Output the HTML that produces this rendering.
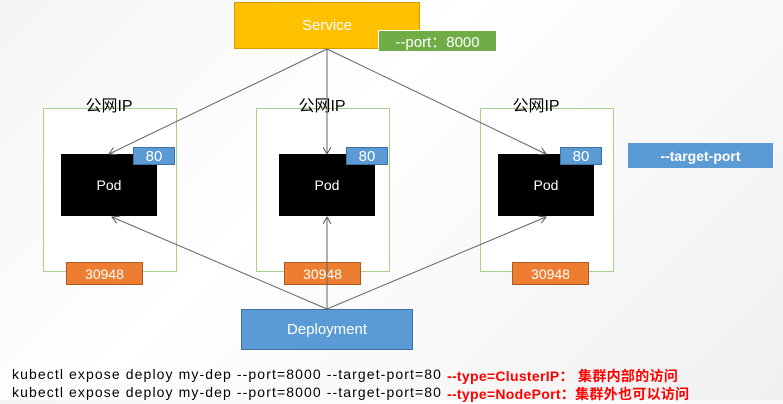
<!DOCTYPE html>
<html><head><meta charset="utf-8"><style>
body{margin:0;width:783px;height:400px;overflow:hidden;background:linear-gradient(135deg,#f4f4f4,#fff 40%,#f0f0f0);font-family:"Liberation Sans","Noto Sans CJK SC",sans-serif;position:relative}
.a{position:absolute;box-sizing:border-box;display:flex;align-items:center;justify-content:center;color:#fff}
.box{position:absolute;border:1px solid #a9d18e;background:#fff}
.lbl{position:absolute;font-size:16px;color:#000;width:100px;text-align:center}
.pod{background:#000;font-size:14px}
.p80{background:#5b9bd5;font-size:15px;border:1px solid #41719c}
.np{background:#ed7d31;font-size:14px;border:1px solid #ae5a21}
.t{position:absolute;left:12px;font-size:14px;color:#000;white-space:nowrap;letter-spacing:1.1px}
.r{position:absolute;left:447px;font-size:14px;color:#f00;font-weight:bold;white-space:nowrap;letter-spacing:0.3px}
</style></head><body>
<div class="box" style="left:43px;top:108px;width:132px;height:162px"></div>
<div class="box" style="left:256px;top:108px;width:132px;height:162px"></div>
<div class="box" style="left:480px;top:108px;width:132px;height:162px"></div>
<div class="lbl" style="left:59px;top:92px">公网IP</div>
<div class="lbl" style="left:272px;top:92px">公网IP</div>
<div class="lbl" style="left:486px;top:92px">公网IP</div>
<div class="a pod" style="left:61px;top:154px;width:96px;height:62px">Pod</div>
<div class="a pod" style="left:279px;top:154px;width:96px;height:62px">Pod</div>
<div class="a pod" style="left:498px;top:154px;width:96px;height:62px">Pod</div>
<div class="a p80" style="left:133px;top:147px;width:42px;height:18px">80</div>
<div class="a p80" style="left:346px;top:147px;width:42px;height:18px">80</div>
<div class="a p80" style="left:560px;top:147px;width:42px;height:18px">80</div>
<div class="a np" style="left:66px;top:262px;width:77px;height:23px">30948</div>
<div class="a np" style="left:284px;top:262px;width:77px;height:23px">30948</div>
<div class="a np" style="left:512px;top:262px;width:77px;height:23px">30948</div>
<div class="a" style="left:234px;top:2px;width:186px;height:47px;background:#ffc000;border:1px solid #d4a000;font-size:15px">Service</div>
<div class="a" style="left:378px;top:30px;width:119px;height:22px;background:#70ad47;border:1px solid #fff;font-size:15px">--port：8000</div>
<div class="a" style="left:628px;top:143px;width:145px;height:25px;background:#5b9bd5;font-size:14px;font-weight:bold">--target-port</div>
<div class="a" style="left:241px;top:309px;width:172px;height:41px;background:#5b9bd5;border:1px solid #41719c;font-size:15px">Deployment</div>
<svg style="position:absolute;left:0;top:0" width="783" height="400">
<defs><marker id="m" markerWidth="8" markerHeight="8" refX="7" refY="4" orient="auto"><path d="M0,0 L7,4 L0,8" fill="none" stroke="#555"/></marker></defs>
<g stroke="#666" stroke-width="1" fill="none" marker-end="url(#m)">
<line x1="327" y1="49" x2="109" y2="154"/>
<line x1="327" y1="49" x2="327" y2="154"/>
<line x1="327" y1="49" x2="546" y2="154"/>
<line x1="327" y1="309" x2="112" y2="217"/>
<line x1="327" y1="309" x2="327" y2="217"/>
<line x1="327" y1="309" x2="546" y2="217"/>
</g></svg>
<div class="t" style="top:366px">kubectl expose deploy my-dep --port=8000 --target-port=80</div>
<div class="r" style="top:366px">--type=ClusterIP：&nbsp;集群内部的访问</div>
<div class="t" style="top:384px">kubectl expose deploy my-dep --port=8000 --target-port=80</div>
<div class="r" style="top:384px">--type=NodePort：集群外也可以访问</div>
</body></html>
